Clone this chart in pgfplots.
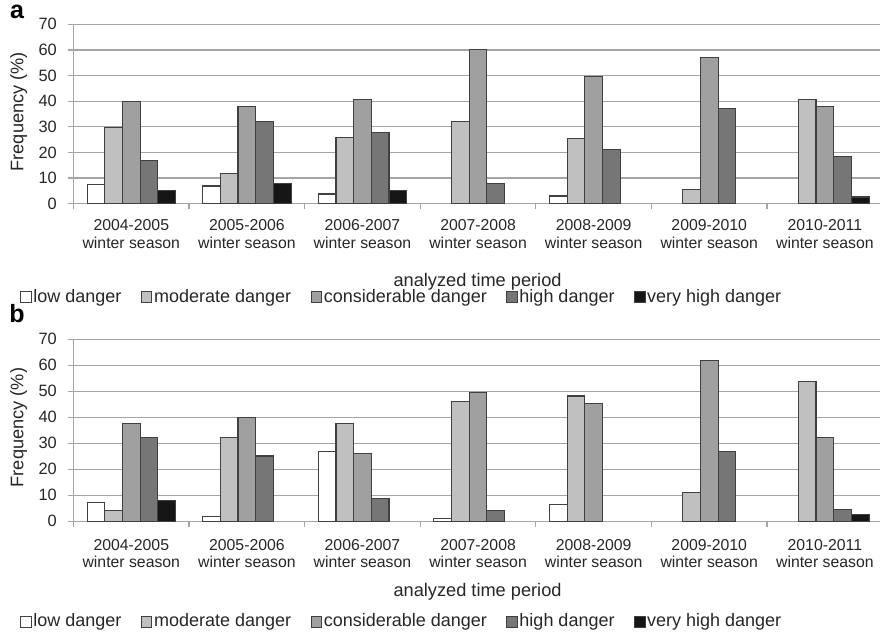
\documentclass[border=0pt]{standalone}
\usepackage{fontspec}
\setmainfont{Liberation Sans}
\usepackage{pgfplots}
\pgfplotsset{compat=1.18}
\definecolor{cLow}{RGB}{255,255,255}
\definecolor{cMod}{RGB}{192,192,192}
\definecolor{cCon}{RGB}{160,160,160}
\definecolor{cHigh}{RGB}{118,118,118}
\definecolor{cVH}{RGB}{22,22,22}
\definecolor{cEdge}{RGB}{64,64,64}
\definecolor{cGrid}{RGB}{165,165,165}
\pgfplotsset{
  panel/.style={
    scale only axis,
    width=403.25pt,
    anchor=south west,
    xmin=-0.5, xmax=6.477,
    ymin=0, ymax=70,
    ytick={0,10,...,70},
    axis x line*=bottom,
    axis y line*=left,
    axis line style={cGrid, line width=0.6pt},
    ymajorgrids,
    grid style={cGrid, line width=0.6pt},
    tick align=outside,
    major tick length=2.8pt,
    tick style={cGrid, line width=0.6pt},
    xtick={-0.5,0.5,...,5.5},
    xticklabels={},
    extra x ticks={0,1,...,6},
    extra x tick labels={{2004-2005\\winter season},{2005-2006\\winter season},{2006-2007\\winter season},{2007-2008\\winter season},{2008-2009\\winter season},{2009-2010\\winter season},{2010-2011\\winter season}},
    extra x tick style={major tick length=0pt, grid=none},
    xticklabel style={align=center, font=\fontsize{7.9}{8.75}\selectfont, text=black!85},
    yticklabel style={font=\fontsize{8.2}{9}\selectfont, text=black!85, xshift=-2pt},
    /pgf/number format/assume math mode=true,
    ylabel={Frequency (\%)},
    ylabel style={font=\fontsize{9.1}{10}\selectfont, text=black!85, anchor=center},
    xlabel={analyzed time period},
    xlabel style={font=\fontsize{9.1}{10}\selectfont, text=black!85, anchor=center},
    ybar,
    bar width=0.153,
    legend image code/.code={\draw[#1, line width=0.5pt] (0pt,-2.6pt) rectangle (5.2pt,2.6pt);},
    legend columns=5,
    legend style={draw=none, fill=none, inner sep=0pt, anchor=west,
      font=\fontsize{9}{10}\selectfont, text=black!85,
      nodes={inner sep=0.8pt},
      /tikz/every even column/.append style={column sep=9pt}},
  },
  s1/.style={draw=cEdge, fill=cLow, line width=0.55pt, bar shift=-0.306},
  s2/.style={draw=cEdge, fill=cMod, line width=0.55pt, bar shift=-0.153},
  s3/.style={draw=cEdge, fill=cCon, line width=0.55pt, bar shift=0},
  s4/.style={draw=cEdge, fill=cHigh, line width=0.55pt, bar shift=0.153},
  s5/.style={draw=cEdge, fill=cVH, line width=0.55pt, bar shift=0.306},
}
\begin{document}
\begin{tikzpicture}
\useasboundingbox (0,0) rectangle (440pt,316.5pt);
% panel a
\begin{axis}[panel,
  at={(36.75pt,214.65pt)}, height=89.7pt,
  xticklabel style={yshift=-4.5pt},
  ylabel style={at={(axis description cs:-0.068,0.513)}},
  xlabel style={at={(axis description cs:0.501,-0.436)}},
  legend style={at={(axis description cs:-0.0663,-0.52)}},
]
\addplot[s1] coordinates {(0,7.6) (1,6.9) (2,3.8) (4,3.0)};
\addplot[s2] coordinates {(0,29.7) (1,11.9) (2,25.9) (3,32) (4,25.5) (5,5.6) (6,40.5)};
\addplot[s3] coordinates {(0,40) (1,37.9) (2,40.8) (3,60) (4,49.6) (5,57) (6,38.1)};
\addplot[s4] coordinates {(0,16.7) (1,32) (2,27.9) (3,8) (4,21.3) (5,37) (6,18.3)};
\addplot[s5] coordinates {(0,5.3) (1,8) (2,5) (6,2.6)};
\legend{low danger,moderate danger,considerable danger,high danger,very high danger}
\end{axis}
% panel b
\begin{axis}[panel,
  at={(36.75pt,55.85pt)}, height=91pt,
  xticklabel style={yshift=-5.5pt},
  ylabel style={at={(axis description cs:-0.068,0.515)}},
  xlabel style={at={(axis description cs:0.501,-0.388)}},
  legend style={at={(axis description cs:-0.0663,-0.553)}},
]
\addplot[s1] coordinates {(0,7.3) (1,1.8) (2,26.8) (3,1.2) (4,6.5)};
\addplot[s2] coordinates {(0,4.2) (1,32.2) (2,37.7) (3,46) (4,48.2) (5,11) (6,53.7)};
\addplot[s3] coordinates {(0,37.7) (1,40) (2,26) (3,49.7) (4,45.2) (5,61.9) (6,32.2)};
\addplot[s4] coordinates {(0,32.2) (1,25.1) (2,8.8) (3,4.1) (5,26.8) (6,4.5)};
\addplot[s5] coordinates {(0,8.1) (6,2.7)};
\legend{low danger,moderate danger,considerable danger,high danger,very high danger}
\end{axis}
\node[anchor=base, font=\fontsize{12.5}{13}\selectfont\bfseries] at (8.5pt,307pt) {a};
\node[anchor=base, font=\fontsize{12.5}{13}\selectfont\bfseries] at (8.5pt,155pt) {b};
\end{tikzpicture}
\end{document}
